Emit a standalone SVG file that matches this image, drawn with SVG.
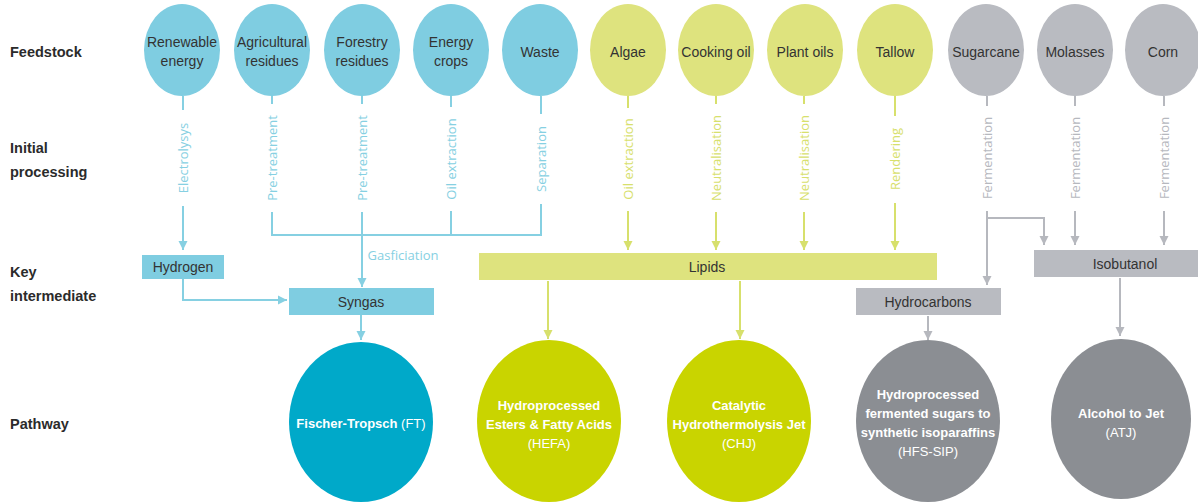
<svg xmlns="http://www.w3.org/2000/svg" width="1198" height="504" viewBox="0 0 1198 504">
<defs>
<style>
.lbl{font-family:"Liberation Sans",Arial,sans-serif;font-weight:bold;font-size:14.5px;fill:#2b2b2b}
.ft{font-family:"Liberation Sans",Arial,sans-serif;font-size:14px;fill:#333;text-anchor:middle}
.bx{font-family:"Liberation Sans",Arial,sans-serif;font-size:14px;fill:#333;text-anchor:middle}
.pw{font-family:"Liberation Sans",Arial,sans-serif;font-size:13px;font-weight:bold;fill:#fff;text-anchor:middle}
.pr{font-weight:normal}
.vt{font-family:"Open Sans","Liberation Sans",Arial,sans-serif;font-size:13px;text-anchor:middle}
.cb{fill:#7fcde1}.cy{fill:#dee37e}.cg{fill:#b9bbc1}
.lb{stroke:#86d0e2;stroke-width:2;fill:none}
.ly{stroke:#d7e06c;stroke-width:2;fill:none}
.lg{stroke:#b6b8be;stroke-width:2;fill:none}
.tb{fill:#86d0e2}.ty{fill:#d7e06c}.tg{fill:#b6b8be}
</style>
<marker id="mb" viewBox="0 0 10 10" refX="10" refY="5" markerWidth="9" markerHeight="10" orient="auto" markerUnits="userSpaceOnUse"><path d="M0,0 L10,5 L0,10 z" fill="#86d0e2"/></marker>
<marker id="my" viewBox="0 0 10 10" refX="10" refY="5" markerWidth="9" markerHeight="10" orient="auto" markerUnits="userSpaceOnUse"><path d="M0,0 L10,5 L0,10 z" fill="#d7e06c"/></marker>
<marker id="mg" viewBox="0 0 10 10" refX="10" refY="5" markerWidth="9" markerHeight="10" orient="auto" markerUnits="userSpaceOnUse"><path d="M0,0 L10,5 L0,10 z" fill="#b6b8be"/></marker>
</defs>
<rect width="1198" height="504" fill="#fff"/>

<g id="row-labels">
<text class="lbl" x="10" y="57">Feedstock</text>
<text class="lbl" x="10" y="153">Initial</text>
<text class="lbl" x="10" y="177">processing</text>
<text class="lbl" x="10" y="277">Key</text>
<text class="lbl" x="10" y="301">intermediate</text>
<text class="lbl" x="10" y="429">Pathway</text>
</g>

<g id="connectors">
<!-- blue -->
<line class="lb" x1="183" y1="96" x2="183" y2="110"/>
<line class="lb" x1="183" y1="206" x2="183" y2="250" marker-end="url(#mb)"/>
<line class="lb" x1="272" y1="96" x2="272" y2="104"/>
<line class="lb" x1="362" y1="96" x2="362" y2="104"/>
<line class="lb" x1="451" y1="96" x2="451" y2="107"/>
<line class="lb" x1="541" y1="96" x2="541" y2="114"/>
<polyline class="lb" points="272,212 272,235 541,235 541,204"/>
<line class="lb" x1="451" y1="211" x2="451" y2="235"/>
<line class="lb" x1="362" y1="212" x2="362" y2="287" marker-end="url(#mb)"/>
<polyline class="lb" points="183,278 183,300 287,300" marker-end="url(#mb)"/>
<line class="lb" x1="361" y1="315" x2="361" y2="340" marker-end="url(#mb)"/>
<text class="vt tb" transform="translate(187.5,158) rotate(-90)">Electrolysys</text>
<text class="vt tb" transform="translate(276.5,158) rotate(-90)">Pre-treatment</text>
<text class="vt tb" transform="translate(366.5,158) rotate(-90)">Pre-treatment</text>
<text class="vt tb" transform="translate(455.5,159) rotate(-90)">Oil extraction</text>
<text class="vt tb" transform="translate(545.5,159) rotate(-90)">Separation</text>
<text class="vt tb" x="403" y="260">Gasficiation</text>
<!-- yellow -->
<line class="ly" x1="628" y1="96" x2="628" y2="108"/>
<line class="ly" x1="716" y1="96" x2="716" y2="104"/>
<line class="ly" x1="804" y1="96" x2="804" y2="104"/>
<line class="ly" x1="895" y1="96" x2="895" y2="116"/>
<line class="ly" x1="628" y1="211" x2="628" y2="250" marker-end="url(#my)"/>
<line class="ly" x1="716" y1="212" x2="716" y2="250" marker-end="url(#my)"/>
<line class="ly" x1="804" y1="212" x2="804" y2="250" marker-end="url(#my)"/>
<line class="ly" x1="895" y1="203" x2="895" y2="250" marker-end="url(#my)"/>
<line class="ly" x1="548" y1="281" x2="548" y2="339" marker-end="url(#my)"/>
<line class="ly" x1="740" y1="281" x2="740" y2="339" marker-end="url(#my)"/>
<text class="vt ty" transform="translate(632.5,159) rotate(-90)">Oil extraction</text>
<text class="vt ty" transform="translate(720.5,158) rotate(-90)">Neutralisation</text>
<text class="vt ty" transform="translate(808.5,158) rotate(-90)">Neutralisation</text>
<text class="vt ty" transform="translate(899.5,159) rotate(-90)">Rendering</text>
<!-- grey -->
<line class="lg" x1="987" y1="96" x2="987" y2="106"/>
<line class="lg" x1="1075" y1="96" x2="1075" y2="106"/>
<line class="lg" x1="1164" y1="96" x2="1164" y2="106"/>
<line class="lg" x1="987" y1="211" x2="987" y2="285" marker-end="url(#mg)"/>
<polyline class="lg" points="987,218 1044,218 1044,245" marker-end="url(#mg)"/>
<line class="lg" x1="1075" y1="211" x2="1075" y2="245" marker-end="url(#mg)"/>
<line class="lg" x1="1164" y1="211" x2="1164" y2="245" marker-end="url(#mg)"/>
<line class="lg" x1="928" y1="316" x2="928" y2="340" marker-end="url(#mg)"/>
<line class="lg" x1="1120" y1="278" x2="1120" y2="336" marker-end="url(#mg)"/>
<text class="vt tg" transform="translate(991.5,158) rotate(-90)">Fermentation</text>
<text class="vt tg" transform="translate(1079.5,158) rotate(-90)">Fermentation</text>
<text class="vt tg" transform="translate(1168.5,158) rotate(-90)">Fermentation</text>
</g>

<g id="feed-renewable"><ellipse class="cb" cx="182" cy="50" rx="38" ry="46"/><text class="ft" x="182" y="47">Renewable</text><text class="ft" x="182" y="66">energy</text></g>
<g id="feed-agri"><ellipse class="cb" cx="272" cy="50" rx="38" ry="46"/><text class="ft" x="272" y="47">Agricultural</text><text class="ft" x="272" y="66">residues</text></g>
<g id="feed-forestry"><ellipse class="cb" cx="362" cy="50" rx="38" ry="46"/><text class="ft" x="362" y="47">Forestry</text><text class="ft" x="362" y="66">residues</text></g>
<g id="feed-energy"><ellipse class="cb" cx="451" cy="50" rx="38" ry="46"/><text class="ft" x="451" y="47">Energy</text><text class="ft" x="451" y="66">crops</text></g>
<g id="feed-waste"><ellipse class="cb" cx="540" cy="50" rx="38" ry="46"/><text class="ft" x="540" y="57">Waste</text></g>
<g id="feed-algae"><ellipse class="cy" cx="628" cy="50" rx="38" ry="46"/><text class="ft" x="628" y="57">Algae</text></g>
<g id="feed-cooking"><ellipse class="cy" cx="716" cy="50" rx="38" ry="46"/><text class="ft" x="716" y="57">Cooking oil</text></g>
<g id="feed-plant"><ellipse class="cy" cx="805" cy="50" rx="38" ry="46"/><text class="ft" x="805" y="57">Plant oils</text></g>
<g id="feed-tallow"><ellipse class="cy" cx="895" cy="50" rx="38" ry="46"/><text class="ft" x="895" y="57">Tallow</text></g>
<g id="feed-sugarcane"><ellipse class="cg" cx="986" cy="50" rx="38" ry="46"/><text class="ft" x="986" y="57">Sugarcane</text></g>
<g id="feed-molasses"><ellipse class="cg" cx="1075" cy="50" rx="38" ry="46"/><text class="ft" x="1075" y="57">Molasses</text></g>
<g id="feed-corn"><ellipse class="cg" cx="1163" cy="50" rx="38" ry="46"/><text class="ft" x="1163" y="57">Corn</text></g>

<g id="int-hydrogen"><rect class="cb" x="142" y="255" width="82" height="24"/><text class="bx" x="183" y="272">Hydrogen</text></g>
<g id="int-syngas"><rect class="cb" x="289" y="288" width="145" height="27"/><text class="bx" x="361" y="307">Syngas</text></g>
<g id="int-lipids"><rect class="cy" x="479" y="253" width="458" height="27"/><text class="bx" x="707" y="272">Lipids</text></g>
<g id="int-hydrocarbons"><rect class="cg" x="856" y="288" width="145" height="27"/><text class="bx" x="928" y="307">Hydrocarbons</text></g>
<g id="int-isobutanol"><rect class="cg" x="1034" y="250" width="164" height="27"/><text class="bx" x="1125" y="269">Isobutanol</text></g>

<g id="path-ft"><ellipse cx="361" cy="422" rx="72" ry="80" fill="#00a9c9"/><text class="pw" x="361" y="428">Fischer-Tropsch <tspan class="pr">(FT)</tspan></text></g>
<g id="path-hefa"><ellipse cx="549" cy="421" rx="72" ry="81" fill="#c9d400"/><text class="pw" x="549" y="410">Hydroprocessed</text><text class="pw" x="549" y="429">Esters &amp; Fatty Acids</text><text class="pw pr" x="549" y="448">(HEFA)</text></g>
<g id="path-chj"><ellipse cx="739" cy="421" rx="72" ry="81" fill="#c9d400"/><text class="pw" x="739" y="410">Catalytic</text><text class="pw" x="739" y="429">Hydrothermolysis Jet</text><text class="pw pr" x="739" y="448">(CHJ)</text></g>
<g id="path-hfs"><ellipse cx="928" cy="421" rx="72" ry="81" fill="#8b8e93"/><text class="pw" x="928" y="399">Hydroprocessed</text><text class="pw" x="928" y="418">fermented sugars to</text><text class="pw" x="928" y="437">synthetic isoparaffins</text><text class="pw pr" x="928" y="456">(HFS-SIP)</text></g>
<g id="path-atj"><ellipse cx="1121" cy="419" rx="70" ry="80" fill="#8b8e93"/><text class="pw" x="1121" y="418">Alcohol to Jet</text><text class="pw pr" x="1121" y="437">(ATJ)</text></g>
</svg>
